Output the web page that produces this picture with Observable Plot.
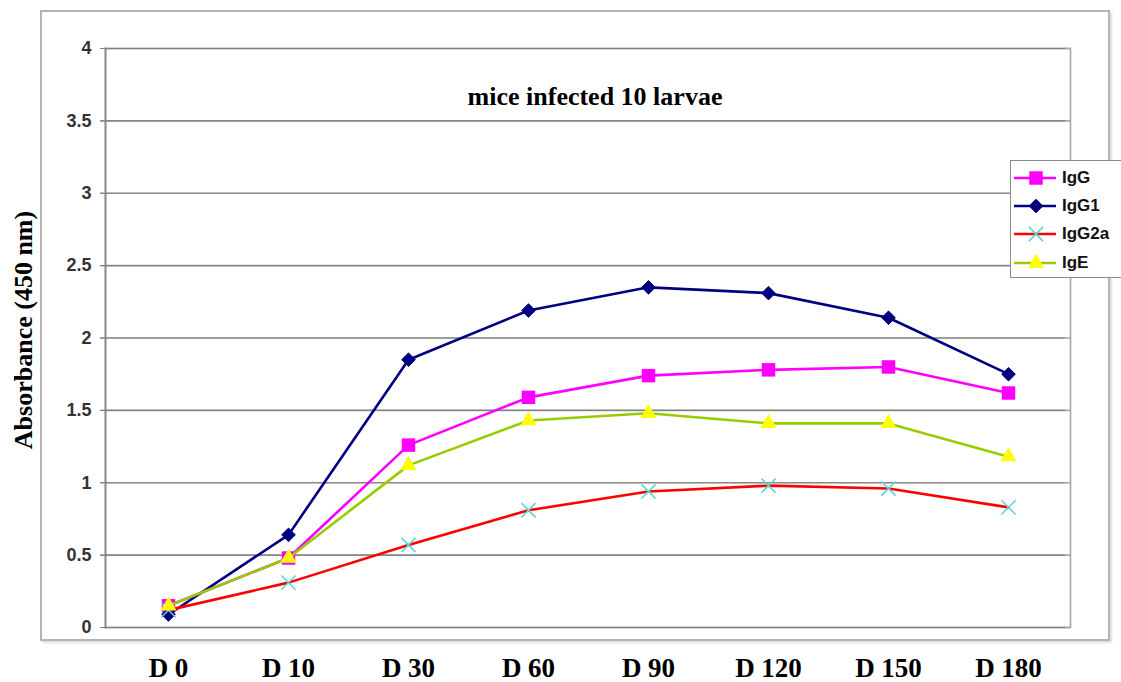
<!DOCTYPE html>
<html>
<head>
<meta charset="utf-8">
<script src="https://cdn.jsdelivr.net/npm/d3@7"></script>
<script src="https://cdn.jsdelivr.net/npm/@observablehq/plot@0.6"></script>
<style>
  html, body { margin: 0; padding: 0; background: #fff; }
  #wrap { position: relative; width: 1121px; height: 682px; overflow: hidden; }
  #outer { position: absolute; left: 40px; top: 10px; width: 1070px; height: 631px; box-sizing: border-box; border: 2px solid #b4b4b4; box-shadow: 2px 2px 2px #ddd; }
  #chart { position: absolute; left: 0; top: 0; }
  #legend { position: absolute; left: 1010px; top: 160px; width: 112px; height: 118px; box-sizing: border-box; border: 1px solid #8c8c8c; background: #fff; font: bold 17px "Liberation Sans", Arial, sans-serif; color: #111; }
  .row { position: absolute; left: 0; height: 24px; display: flex; align-items: center; }
  .row svg { display: block; }
  .row span { margin-left: 3px; }
</style>
</head>
<body>
<div id="wrap">
  <div id="outer"></div>
  <div id="chart"></div>
  <div id="legend"></div>
</div>
<script>
// ---- data ----
const days = ["D 0", "D 10", "D 30", "D 60", "D 90", "D 120", "D 150", "D 180"];
const igG   = [0.15, 0.48, 1.26, 1.59, 1.74, 1.78, 1.80, 1.62];
const igG1  = [0.09, 0.64, 1.85, 2.19, 2.35, 2.31, 2.14, 1.75];
const igG2a = [0.12, 0.31, 0.57, 0.81, 0.94, 0.98, 0.96, 0.83];
const igE   = [0.15, 0.48, 1.12, 1.43, 1.48, 1.41, 1.41, 1.18];
const seriesNames = ["IgG", "IgG1", "IgG2a", "IgE"];
const yTicks = [0, 0.5, 1, 1.5, 2, 2.5, 3, 3.5, 4];
const yTickLabels = ["0", "0.5", "1", "1.5", "2", "2.5", "3", "3.5", "4"];
const titleText = "mice infected 10 larvae";
const yLabelText = "Absorbance (450 nm)";

// ---- styles ----
const diamond = {
  draw(ctx, size) {
    const h = Math.sqrt(size) * 0.62;
    ctx.moveTo(0, -h); ctx.lineTo(h, 0); ctx.lineTo(0, h); ctx.lineTo(-h, 0); ctx.closePath();
  }
};
const styles = {
  "IgG":   {line: "#ff00ff", symbol: "square",   fill: "#ff00ff", stroke: "none",    r: 7.6, sw: 0},
  "IgG1":  {line: "#000080", symbol: diamond,    fill: "#000080", stroke: "#000080", r: 6.2, sw: 1},
  "IgG2a": {line: "#ff0000", symbol: "times",    fill: "none",    stroke: "#5cd6d6", r: 6.5, sw: 1.6},
  "IgE":   {line: "#99cc00", symbol: "triangle", fill: "#ffff00", stroke: "none",    r: 6, sw: 0}
};
const valuesBy = {"IgG": igG, "IgG1": igG1, "IgG2a": igG2a, "IgE": igE};

const rows = seriesNames.map(name => valuesBy[name].map((v, i) => ({series: name, day: days[i], value: v})));

const tickMap = new Map(yTicks.map((v, i) => [v, yTickLabels[i]]));

const seriesMarks = rows.flatMap((data, k) => {
  const s = styles[seriesNames[k]];
  return [
    Plot.line(data, {x: "day", y: "value", stroke: s.line, strokeWidth: 2.6}),
    Plot.dot(data, {x: "day", y: "value", symbol: s.symbol, r: s.r, fill: s.fill, stroke: s.stroke, strokeWidth: s.sw})
  ];
});

const chart = Plot.plot({
  width: 1121,
  height: 682,
  marginLeft: 105,
  marginRight: 51,
  marginTop: 48,
  marginBottom: 55,
  style: {background: "transparent", overflow: "visible"},
  x: {type: "point", domain: days, padding: 0.5},
  y: {domain: [0, 4]},
  marks: [
    Plot.ruleY(yTicks, {stroke: "#a6a6a6", strokeWidth: 1.6}),
    Plot.frame({stroke: "#a6a6a6", strokeWidth: 1.6}),
    Plot.frame({anchor: "left", stroke: "#8a8a8a", strokeWidth: 1.8}),
    Plot.tickY(yTicks, {y: d => d, frameAnchor: "left", stroke: "#808080", strokeWidth: 1.2, inset: 0, dx: -5, x: null}),
    Plot.axisY({ticks: yTicks, tickFormat: d => tickMap.get(d), tickSize: 5, tickPadding: 9, stroke: "#808080",
      fill: "#333", fontSize: 18, fontWeight: "bold", fontFamily: "Liberation Sans, Arial, sans-serif", label: null}),
    Plot.axisX({tickSize: 0, tickPadding: 30, fill: "#000", fontSize: 27, fontWeight: "bold",
      fontFamily: "Liberation Serif, Times New Roman, serif", label: null}),
    ...seriesMarks,
    Plot.text([titleText], {frameAnchor: "top", dx: 7, dy: 56, lineAnchor: "bottom", fontSize: 26, fontWeight: "bold",
      fontFamily: "Liberation Serif, Times New Roman, serif", fill: "#000"}),
    Plot.text([yLabelText], {frameAnchor: "left", textAnchor: "middle", rotate: -90, dx: -82, dy: -8, fontSize: 26, fontWeight: "bold",
      fontFamily: "Liberation Serif, Times New Roman, serif", fill: "#000"})
  ]
});
document.getElementById("chart").appendChild(chart);

// ---- legend ----
const legend = d3.select("#legend");
const rowCenters = [17, 45, 73, 102];
seriesNames.forEach((name, i) => {
  const s = styles[name];
  const row = legend.append("div").attr("class", "row").style("top", (rowCenters[i] - 12) + "px");
  const svg = row.append("svg").attr("width", 48).attr("height", 24);
  svg.append("line").attr("x1", 3).attr("x2", 45).attr("y1", 12).attr("y2", 12)
    .attr("stroke", s.line).attr("stroke-width", 2.6);
  const sym = typeof s.symbol === "string"
    ? {square: d3.symbolSquare, times: d3.symbolTimes, triangle: d3.symbolTriangle}[s.symbol]
    : s.symbol;
  svg.append("path").attr("transform", "translate(25,12)")
    .attr("d", d3.symbol(sym, Math.PI * s.r * s.r)())
    .attr("fill", s.fill).attr("stroke", s.stroke).attr("stroke-width", s.sw);
  row.append("span").text(name);
});
</script>
</body>
</html>
